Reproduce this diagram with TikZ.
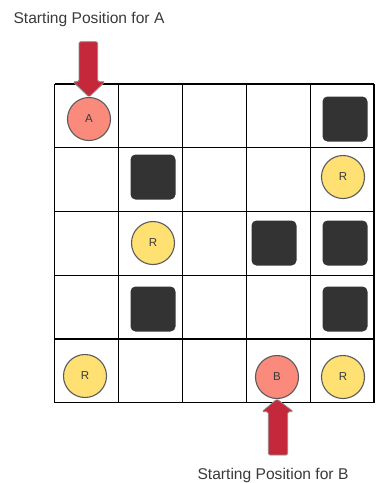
\documentclass[tikz,border=0pt]{standalone}
\usepackage{fontspec}
\setmainfont{Liberation Sans}
\definecolor{salmon}{HTML}{F98A7C}
\definecolor{sun}{HTML}{FFE073}
\definecolor{block}{HTML}{333333}
\definecolor{arrred}{HTML}{C5283A}
\definecolor{rim}{HTML}{5A5A5A}
\definecolor{txt}{HTML}{3A3A3A}
\begin{document}
\begin{tikzpicture}[x=1pt,y=-1pt,
  cellline/.style={draw=black,line width=1.2pt},
  blockbox/.style={fill=block,rounded corners=5pt,minimum size=45pt,inner sep=0pt},
  token/.style={circle,draw=rim,line width=1.1pt,minimum size=43pt,inner sep=0pt,font=\fontsize{11.5}{13}\selectfont,text=txt},
  start/.style={token,fill=salmon},
  reward/.style={token,fill=sun},
  bigarrow/.style={fill=arrred,draw=rim!70,line width=0.8pt,rounded corners=1.5pt},
  caption/.style={font=\fontsize{15.6}{18}\selectfont,text=txt,inner sep=0pt}]
\useasboundingbox (0,0) rectangle (391,483);
% grid
\foreach \i in {0,...,5} {
  \draw[cellline] ({54.5+63.9*\i},84) -- ({54.5+63.9*\i},402.7);
  \draw[cellline] (54.5,{84+63.74*\i}) -- (374,{84+63.74*\i});
}
% blocks
\node[blockbox] (b15) at (345,119) {};
\node[blockbox] (b22) at (153,177) {};
\node[blockbox] (b34) at (274,243) {};
\node[blockbox] (b35) at (345,243) {};
\node[blockbox] (b42) at (153,309) {};
\node[blockbox] (b45) at (345,309) {};
% tokens
\node[start] (A) at (89,119) {A};
\node[reward] (r25) at (343,177) {R};
\node[reward] (r32) at (153,243) {R};
\node[reward] (r51) at (85,376) {R};
\node[start] (B) at (277,377) {B};
\node[reward] (r55) at (343,377) {R};
% arrows
\draw[bigarrow] (79,41.7) -- (97.7,41.7) -- (97.7,81.7) -- (105,81.7) -- (A.north) -- (73,81.7) -- (79,81.7) -- cycle;
\draw[bigarrow] (268.3,455) -- (287.7,455) -- (287.7,411.7) -- (293.3,411.7) -- (B.south) -- (262,411.7) -- (268.3,411.7) -- cycle;
% captions
\node[caption] (capA) at (89,19) {Starting Position for A};
\node[caption] (capB) at (273,475) {Starting Position for B};
\end{tikzpicture}
\end{document}
